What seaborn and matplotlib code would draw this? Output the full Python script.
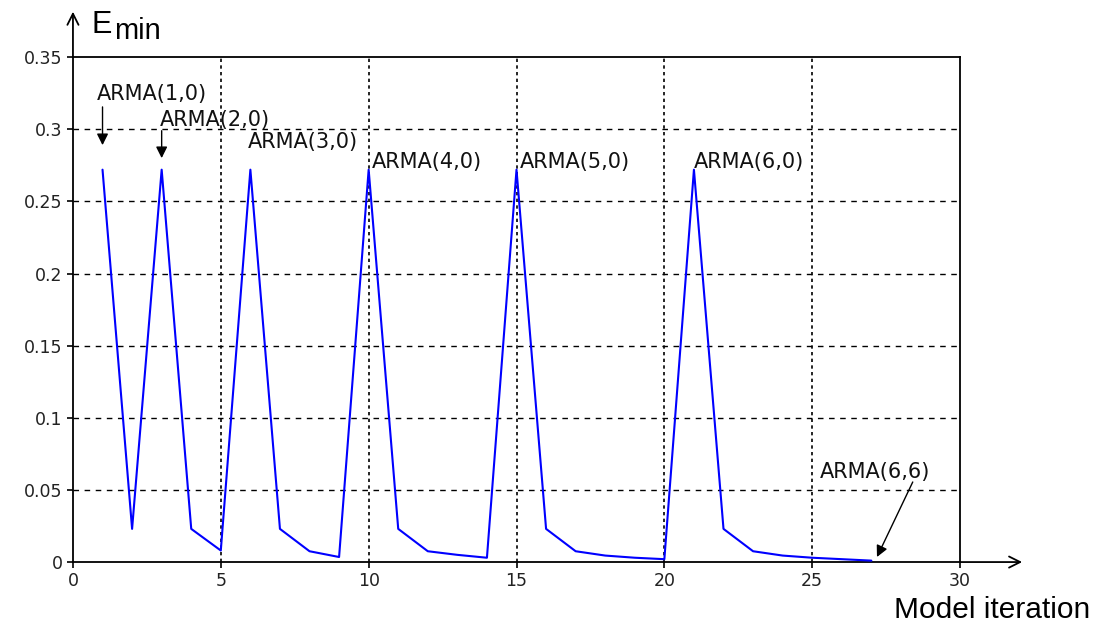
import matplotlib
matplotlib.use("Agg")
import matplotlib.pyplot as plt
import seaborn as sns
import pandas as pd

# ---- data ----
iterations = list(range(1, 28))
e_min = [0.272, 0.023, 0.272, 0.023, 0.008, 0.272, 0.023, 0.0075, 0.0035,
         0.272, 0.023, 0.0075, 0.005, 0.003, 0.272, 0.023, 0.0075, 0.0045,
         0.003, 0.002, 0.272, 0.023, 0.0075, 0.0045, 0.003, 0.002, 0.001]
x_ticks = [0, 5, 10, 15, 20, 25, 30]
y_ticks = [0, 0.05, 0.1, 0.15, 0.2, 0.25, 0.3, 0.35]
y_tick_labels = ["0", "0.05", "0.1", "0.15", "0.2", "0.25", "0.3", "0.35"]
labels = ["ARMA(1,0)", "ARMA(2,0)", "ARMA(3,0)", "ARMA(4,0)", "ARMA(5,0)", "ARMA(6,0)", "ARMA(6,6)"]
label_pos = [(0.81, 0.320), (2.94, 0.302), (5.92, 0.287), (10.1, 0.273),
             (15.1, 0.273), (21.0, 0.273), (25.26, 0.058)]

df = pd.DataFrame({"iteration": iterations, "E_min": e_min})

sns.set_theme(style="white")
plt.rcParams["font.family"] = ["DejaVu Sans"]

fig = plt.figure(figsize=(11.02, 6.28), dpi=100)
ax = fig.add_axes([0.0662, 0.105, 0.805, 0.804])

sns.lineplot(data=df, x="iteration", y="E_min", ax=ax, color=(0, 0, 1),
             linewidth=1.5, zorder=3)

ax.set_xlim(0, 30)
ax.set_ylim(0, 0.35)
ax.set_xticks(x_ticks)
ax.set_yticks(y_ticks)
ax.set_yticklabels(y_tick_labels)
ax.set_xlabel("")
ax.set_ylabel("")

# grid: dashed horizontal, dotted vertical
for yv in y_ticks[1:-1]:
    ax.axhline(yv, color="black", linestyle=(0, (4, 4)), linewidth=1.0, zorder=1)
for xv in x_ticks[1:-1]:
    ax.axvline(xv, color="black", linestyle=(0, (2, 2)), linewidth=1.2, zorder=1)

for s in ax.spines.values():
    s.set_color("black")
    s.set_linewidth(1.3)
    s.set_visible(True)

ax.tick_params(axis="both", direction="out", length=4.5, width=1.2,
               color="black", labelsize=12.5, labelcolor="#222222", pad=3)
ax.tick_params(top=False, right=False, bottom=True, left=True)

# axis arrows
ax.annotate("", xy=(0, 0.3815), xytext=(0, 0.35), xycoords="data",
            arrowprops=dict(arrowstyle="->", color="black", lw=1.3,
                            mutation_scale=20, shrinkA=0, shrinkB=0),
            annotation_clip=False)
ax.annotate("", xy=(32.1, 0), xytext=(30, 0), xycoords="data",
            arrowprops=dict(arrowstyle="->", color="black", lw=1.3,
                            mutation_scale=20, shrinkA=0, shrinkB=0),
            annotation_clip=False)

# axis labels
fig.text(92 / 1102, 1 - 33 / 628, "E", fontsize=22, family="Liberation Sans",
         color="black", ha="left", va="baseline")
fig.text(114 / 1102, 1 - 39 / 628, "min", fontsize=21, family="Liberation Sans",
         color="black", ha="left", va="baseline")
fig.text(1090 / 1102, 1 - 618 / 628, "Model iteration", fontsize=21.5,
         family="Liberation Sans", color="black", ha="right", va="baseline")

# annotations
for lab, (lx, ly) in zip(labels, label_pos):
    ax.text(lx, ly, lab, fontsize=15, color="#111111", ha="left", va="baseline",
            zorder=4)

arrow_kw = dict(arrowstyle="-|>", color="black", lw=1.0, mutation_scale=17,
                shrinkA=0, shrinkB=0)
ax.annotate("", xy=(1, 0.289), xytext=(1, 0.3155), arrowprops=arrow_kw)
ax.annotate("", xy=(3, 0.280), xytext=(3, 0.299), arrowprops=arrow_kw)
ax.annotate("", xy=(27.19, 0.0035), xytext=(28.4, 0.0555), arrowprops=arrow_kw)

fig.savefig("out.png", dpi=100, facecolor="white")
